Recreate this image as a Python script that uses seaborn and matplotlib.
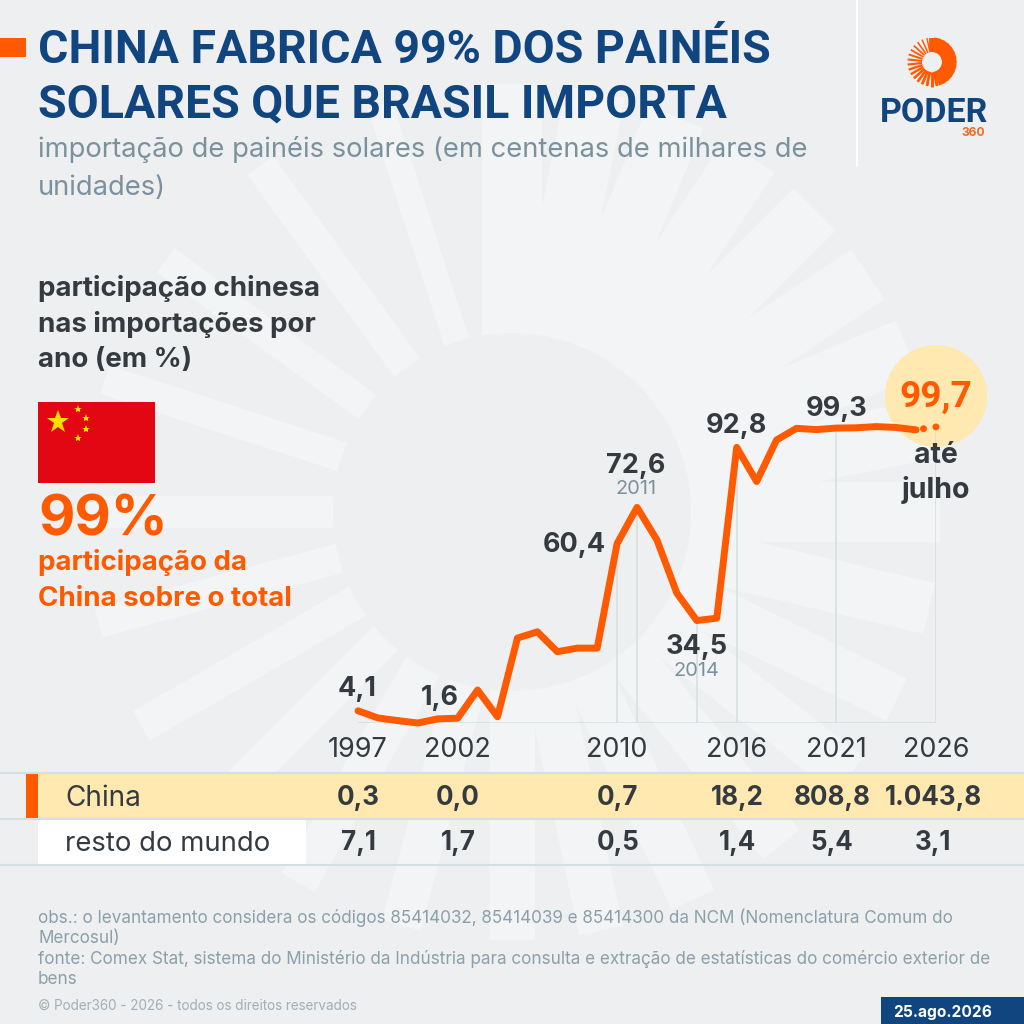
import numpy as np
import seaborn as sns
import matplotlib.pyplot as plt
from matplotlib.patches import Circle, Polygon, Rectangle

# participacao chinesa por ano
years = list(range(1997, 2027))
share = [4.1, 1.7, 0.8, 0.0, 1.4, 1.6, 11.1, 2.1, 28.6, 30.7,
         24.0, 25.2, 25.2, 60.4, 72.6, 61.6, 43.7, 34.5, 35.3, 92.8,
         81.3, 95.3, 99.2, 98.8, 99.3, 99.4, 99.8, 99.5, 98.7, 99.7]
tick_years = [1997, 2002, 2010, 2016, 2021, 2026]
grid_years = [2010, 2011, 2014, 2016, 2021, 2026]
china_row = ["0,3", "0,0", "0,7", "18,2", "808,8", "1.043,8"]
rest_row = ["7,1", "1,7", "0,5", "1,4", "5,4", "3,1"]

BG = "#edeff1"
RAY = "#f2f4f5"
NAVY = "#10457f"
ORANGE = "#ff5a00"
YELLOW = "#ffe9b0"
DARK = "#343a40"
GREY = "#7b929e"
LINE = "#d5dfe2"

sns.set_theme(style="white")
plt.rcParams["font.family"] = ["Inter", "DejaVu Sans"]

fig = plt.figure(figsize=(10.24, 10.24), dpi=100, facecolor=BG)

# camada de fundo em pixels
bg = fig.add_axes([0, 0, 1, 1], zorder=0)
bg.set_xlim(0, 1024)
bg.set_ylim(1024, 0)
bg.axis("off")


def px(size):
    return size * 0.72


def txt(x, y, s, size, color=DARK, weight="normal", ha="left", va="baseline", **kw):
    return bg.text(x, y, s, fontsize=px(size), color=color, fontweight=weight, ha=ha, va=va, **kw)


# raios do sol no fundo: angulo e largura
ray_specs = [(0, 60), (11.25, 60), (22.5, 60), (33.75, 60), (45, 60), (56.25, 60), (67.5, 60),
             (78.75, 60), (90, 60), (108, 26), (126, 32), (144, 30), (162, 30), (180, 32),
             (195, 30), (210, 34), (225, 34), (240, 38), (255, 40), (270, 45), (282, 45),
             (295, 47), (309, 47), (322, 47), (334, 47), (347, 52)]
for ang, w in ray_specs:
    a = np.radians(ang)
    d = np.array([np.cos(a), -np.sin(a)])
    n = np.array([-d[1], d[0]])
    c = np.array([512, 512])
    pts = [c + d * 100 + n * w / 2, c + d * 428 + n * w / 2, c + d * 428 - n * w / 2, c + d * 100 - n * w / 2]
    bg.add_patch(Polygon(pts, closed=True, fc=RAY, ec="none", zorder=1))
bg.add_patch(Circle((512, 512), 179, fc=BG, ec="none", zorder=2))

# cabecalho
bg.add_patch(Rectangle((0, 38), 26, 19, fc=ORANGE, ec="none", zorder=3))
txt(38, 63, "CHINA FABRICA 99% DOS PAINÉIS", 46.4, NAVY, "bold", family="Roboto", zorder=5)
txt(38, 118, "SOLARES QUE BRASIL IMPORTA", 46.4, NAVY, "bold", family="Roboto", zorder=5)
txt(38, 157, "importação de painéis solares (em centenas de milhares de", 27.35, GREY, zorder=5)
txt(38, 195, "unidades)", 27.35, GREY, zorder=5)
bg.plot([857, 857], [0, 166], color="white", lw=1.5, zorder=3)

# logo
lx, ly = 932, 62
for i in range(30):
    t = np.radians(90 - i * 12)
    w = 4.2 if i < 14 else 2.2 - (i - 14) * 0.08
    bg.plot([lx + 10 * np.cos(t), lx + 24.5 * np.cos(t)], [ly - 10 * np.sin(t), ly - 24.5 * np.sin(t)],
            color=ORANGE, lw=w, solid_capstyle="butt", zorder=5)
txt(880, 122, "PODER", 34, NAVY, "bold", family="Roboto", zorder=5)
txt(985, 136, "360", 12, "#f26a21", "bold", ha="right", zorder=5)

# bloco esquerdo
txt(38, 296, "participação chinesa", 27.7, DARK, "bold", zorder=5)
txt(38, 332, "nas importações por", 27.7, DARK, "bold", zorder=5)
txt(38, 367, "ano (em %)", 27.7, DARK, "bold", zorder=5)
bg.add_patch(Rectangle((38, 402), 117, 81, fc="#e30613", ec="none", zorder=5))
bg.plot([58], [422], marker="*", ms=17, color="#ffde00", mew=0, zorder=6)
for sx, sy in [(78, 409), (86, 418), (86, 429), (78, 438)]:
    bg.plot([sx], [sy], marker="*", ms=6, color="#ffde00", mew=0, zorder=6)
txt(38, 536, "99%", 56, ORANGE, "bold", zorder=5)
txt(38, 570, "participação da", 27.7, ORANGE, "bold", zorder=5)
txt(38, 606, "China sobre o total", 27.7, ORANGE, "bold", zorder=5)

# circulo do ultimo valor
bg.add_patch(Circle((936, 396), 51, fc=YELLOW, ec="none", zorder=3))

# tabela
bg.add_patch(Rectangle((38, 773), 986, 45, fc=YELLOW, ec="none", zorder=3))
bg.add_patch(Rectangle((26, 773), 12, 45, fc=ORANGE, ec="none", zorder=4))
bg.add_patch(Rectangle((38, 820), 268, 44, fc="white", ec="none", zorder=3))
for ly_ in [772.5, 818.5, 864.5]:
    bg.plot([0, 1024], [ly_, ly_], color=LINE, lw=1.5, zorder=4)
txt(65, 795, "China", 28, DARK, va="center_baseline", zorder=5)
txt(65, 841, "resto do mundo", 27.5, DARK, va="center_baseline", zorder=5)
col_x = [358, 458, 618, 737, 832, 933]
for cx, a, b in zip(col_x, china_row, rest_row):
    txt(cx, 795, a, 26, DARK, "bold", ha="center", va="center_baseline", zorder=5)
    txt(cx, 840, b, 26, DARK, "bold", ha="center", va="center_baseline", zorder=5)

# notas
note = "#8ba0ab"
txt(38, 923, "obs.: o levantamento considera os códigos 85414032, 85414039 e 85414300 da NCM (Nomenclatura Comum do", 17.1, note, zorder=5)
txt(38, 943, "Mercosul)", 17.1, note, zorder=5)
txt(38, 964, "fonte: Comex Stat, sistema do Ministério da Indústria para consulta e extração de estatísticas do comércio exterior de", 17.1, note, zorder=5)
txt(38, 984, "bens", 17.1, note, zorder=5)
txt(38, 1010, "© Poder360 - 2026 - todos os direitos reservados", 13.5, "#a3afb5", zorder=5)
bg.add_patch(Rectangle((881, 997), 143, 27, fc=NAVY, ec="none", zorder=3))
txt(943, 1011, "25.ago.2026", 15.5, "white", "bold", ha="center", va="center_baseline", zorder=5)

# grafico: 1997-2026 = 358-936 px, 0-100 = 723-426 px
ax = fig.add_axes([358 / 1024, (1024 - 723) / 1024, 578 / 1024, 297 / 1024], zorder=2)
ax.patch.set_alpha(0)
sns.lineplot(x=years[:-1], y=share[:-1], ax=ax, color=ORANGE, lw=5, zorder=4,
             solid_capstyle="round", solid_joinstyle="round", clip_on=False)
# trecho pontilhado ate julho, desenhado de 2026 para 2025
dots, = ax.plot(years[:-3:-1], share[:-3:-1], color=ORANGE, lw=5, zorder=4,
                linestyle=(0, (0.01, 1.8)), dash_capstyle="round", clip_on=False)
ax.set_xlim(1997, 2026)
ax.set_ylim(0, 100)
ax.vlines(grid_years, 0, [share[years.index(y)] for y in grid_years], color=LINE, lw=1.1, zorder=1)
ax.hlines(0, 1997, 2026, color=LINE, lw=1.1, zorder=1)
ax.set_xticks(tick_years)
ax.set_xticklabels(tick_years, fontsize=px(27), color=DARK)
ax.tick_params(axis="x", length=0, pad=10)
ax.set_yticks([])
ax.set_xlabel("")
ax.set_ylabel("")
sns.despine(ax=ax, left=True, bottom=True)

# rotulos: ano, texto, deslocamento em pixels
labels = [(1997, "4,1", -1, -25), (2002, "1,6", -18, -23), (2010, "60,4", -43, -2), (2011, "72,6", -1, -44),
          (2014, "34,5", 0, 23), (2016, "92,8", 0, -24), (2021, "99,3", 0, -22)]
for yr, s, dx, dy in labels:
    ax.annotate(s, (yr, share[years.index(yr)]), xytext=(px(dx), px(-dy)), textcoords="offset points",
                ha="center", va="center_baseline", fontsize=px(27), fontweight="bold", color=DARK, zorder=6)
for yr, dx, dy in [(2011, -1, -20), (2014, 0, 48)]:
    ax.annotate(str(yr), (yr, share[years.index(yr)]), xytext=(px(dx), px(-dy)), textcoords="offset points",
                ha="center", va="center_baseline", fontsize=px(20), color=GREY, zorder=6)
ax.annotate("99,7", (2026, 99.7), xytext=(0, px(34)), textcoords="offset points", ha="center",
            va="center_baseline", fontsize=px(37), fontweight="bold", family="Roboto", color=ORANGE, zorder=6)
ax.annotate("até", (2026, 99.7), xytext=(0, px(-36)), textcoords="offset points", ha="center",
            va="baseline", fontsize=px(28.5), fontweight="bold", color=DARK, zorder=6)
ax.annotate("julho", (2026, 99.7), xytext=(0, px(-71)), textcoords="offset points", ha="center",
            va="baseline", fontsize=px(28.5), fontweight="bold", color=DARK, zorder=6)

fig.savefig("out.png", dpi=100, facecolor=BG)
